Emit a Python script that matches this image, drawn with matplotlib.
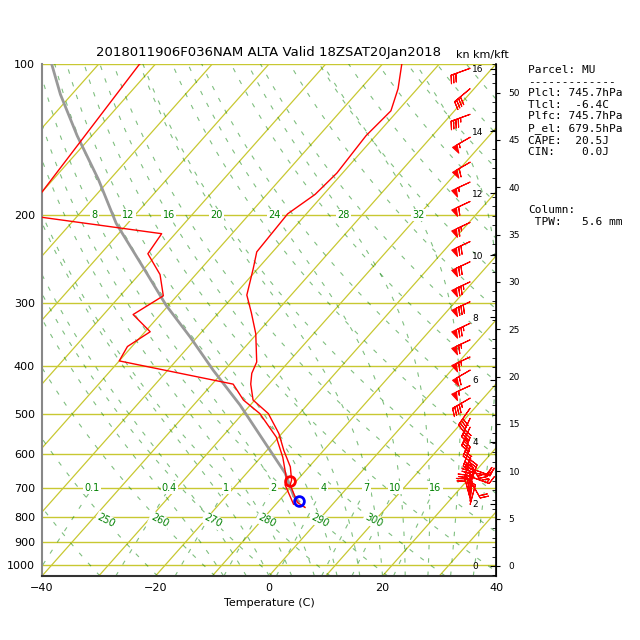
import numpy as np
import matplotlib
matplotlib.use('Agg')
import matplotlib.pyplot as plt
from matplotlib.transforms import Affine2D
from matplotlib.ticker import FixedLocator, NullLocator, MultipleLocator

# ---- sounding values ----
temp_p = [766, 749, 691, 676, 636, 590, 546, 498, 468, 435, 414, 393, 345, 313,
          289, 256, 237, 199, 182, 165, 139, 124, 112, 100]
temp_c = [-4.4, -6.5, -10.5, -11.0, -13.3, -17.0, -20.5, -25.5, -30.3, -33.2, -34.7,
          -35.6, -40.2, -44.3, -47.8, -50.8, -52.8, -53.3, -51.5, -51.0, -51.7,
          -51.2, -53.4, -56.6]

dwpt_p = [755, 691, 667, 609, 555, 498, 468, 435, 391, 366, 342, 316, 290, 263,
          239, 218, 200, 100]
dwpt_c = [-6.9, -11.4, -12.4, -16.1, -20.4, -27.0, -32.0, -36.3, -60.0, -60.8,
          -59.1, -64.8, -62.4, -66.3, -71.7, -72.4, -99.5, -102.8]

parcel_p = [746, 725, 655, 563, 479, 408, 350, 303, 254, 208, 170, 139, 115, 100]
parcel_c = [-6.4, -8.3, -13.2, -22.2, -31.8, -42.0, -51.3, -60.4, -70.5, -82.0,
            -92.0, -102.6, -112.0, -118.3]

lcl_p, lcl_t = 745.7, -6.4
el_p, el_t = 679.5, -11.1

wind_p = [102, 112, 126, 140, 157, 172, 188, 207, 226, 248, 272, 298, 329, 355,
          384, 408, 438, 464, 486, 509, 530, 555, 581, 608, 625, 640, 652, 665,
          677, 688, 700, 712, 724, 735, 745, 756]
wind_dir = [250, 230, 250, 240, 240, 245, 245, 245, 245, 245, 245, 245, 245, 245,
            245, 240, 245, 240, 215, 205, 205, 200, 200, 195, 150, 110, 100, 110,
            150, 20, 10, 0, 350, 345, 5, 15]
wind_kt = [30, 40, 45, 55, 60, 55, 60, 65, 70, 70, 75, 80, 75, 65,
           65, 60, 55, 45, 40, 40, 35, 35, 30, 30, 25, 20, 20, 15,
           20, 20, 25, 25, 20, 20, 15, 15]

isobars = [100, 200, 300, 400, 500, 600, 700, 800, 900, 1000]
isotherms = list(range(-160, 50, 10))
dry_theta = list(range(230, 470, 10))
dry_labels = [250, 260, 270, 280, 290, 300]
moist_tw = list(range(-8, 40, 4))
moist_labels = [8, 12, 16, 20, 24, 28, 32]
mix_ratio = [0.1, 0.4, 1, 2, 4, 7, 10, 16]
mix_labels = ['0.1', '0.4', '1', '2', '4', '7', '10', '16']

title = '2018011906F036NAM ALTA Valid 18ZSAT20Jan2018'
info = ['Parcel: MU', '-------------', 'Plcl: 745.7hPa', 'Tlcl:  -6.4C',
        'Plfc: 745.7hPa', 'P_el: 679.5hPa', 'CAPE:  20.5J', 'CIN:    0.0J',
        '', '', '', '', 'Column:', ' TPW:   5.6 mm']


def moist_adiabat(tw, pres, p0=1050.0):
    # pseudo-adiabat starting at (p0, tw)
    rd, cp, lv, eps = 287.04, 1005.7, 2.501e6, 0.622

    def dtdp(t, p):
        es = 6.112 * np.exp(17.67 * (t - 273.15) / (t - 29.65))
        rs = eps * es / (p - es)
        return (rd * t + lv * rs) / (p * (cp + lv * lv * rs * eps / (rd * t * t)))

    out = []
    for ptarget in pres:
        t, p = tw + 273.15, p0
        n = max(int(abs(ptarget - p) / 2.0), 1)
        dp = (ptarget - p) / n
        for _ in range(n):
            k1 = dtdp(t, p)
            k2 = dtdp(t + k1 * dp, p + dp)
            t += 0.5 * (k1 + k2) * dp
            p += dp
        out.append(t - 273.15)
    return np.array(out)


def mixing_dewpoint(w, p):
    e = w * p / (622.0 + w)
    x = np.log(e / 6.112)
    return 243.5 * x / (17.67 - x)


fig = plt.figure(figsize=(6.4, 6.4), dpi=100)
ax = fig.add_axes([42 / 640, 64 / 640, 454 / 640, 512 / 640])
ax.set_yscale('log')
ax.set_xlim(-40, 40)
ax.set_ylim(1050, 100)
ax.set_autoscale_on(False)
skew = ax.transScale + ax.transLimits + Affine2D().skew_deg(45, 0) + ax.transAxes

dash = dict(color='green', lw=0.8, alpha=0.5, dashes=(4, 8))
lab = dict(color='green', fontsize=7, ha='center', va='center', zorder=4,
           bbox=dict(facecolor='white', edgecolor='none', pad=1.0))

# isobars and isotherms
for p in isobars:
    ax.axhline(p, color='#c8c832', lw=1.0, zorder=1)
pp = np.array([1050, 100])
for t in isotherms:
    ax.plot([t, t], pp, transform=skew, color='#c8c832', lw=0.9, zorder=1)

# dry adiabats
prof = np.linspace(1050, 100, 120)
for th in dry_theta:
    ax.plot(th * (prof / 1000.0) ** 0.2857 - 273.15, prof, transform=skew, **dash)
for th in dry_labels:
    t8 = th * (815 / 1000.0) ** 0.2857 - 273.15
    ax.text(t8, 815, str(th), transform=skew, rotation=-27, rotation_mode='anchor',
            **lab)

# moist adiabats
for tw in moist_tw:
    ax.plot(moist_adiabat(tw, prof), prof, transform=skew, **dash)
for tw in moist_labels:
    t2 = moist_adiabat(tw, [200.0])[0]
    ax.text(t2, 200, str(tw), transform=skew, **lab)

# mixing ratio lines
prof_w = np.linspace(1050, 700, 30)
for w, s in zip(mix_ratio, mix_labels):
    ax.plot(mixing_dewpoint(w, prof_w), prof_w, transform=skew, **dash)
    ax.text(mixing_dewpoint(w, 700.0), 700, s, transform=skew, **lab)

# profiles
ax.plot(parcel_c, parcel_p, transform=skew, color='#999999', lw=2.0, zorder=5)
ax.plot(temp_c, temp_p, transform=skew, color='red', lw=1.0, zorder=6)
ax.plot(dwpt_c, dwpt_p, transform=skew, color='red', lw=1.0, zorder=6)
ax.plot([el_t], [el_p], transform=skew, marker='o', ms=7, mfc='none', mec='red',
        mew=2, zorder=7)
ax.plot([lcl_t], [lcl_p], transform=skew, marker='o', ms=7, mfc='none', mec='blue',
        mew=2, zorder=7)

# wind barbs
wd = np.radians(wind_dir)
u = -np.array(wind_kt) * np.sin(wd)
v = -np.array(wind_kt) * np.cos(wd)
ax.barbs(np.full(len(wind_p), 0.943), wind_p, u, v, transform=ax.get_yaxis_transform(),
         color='red', length=5.4, lw=0.8, flip_barb=True, zorder=8)

ax.yaxis.set_major_locator(FixedLocator(isobars))
ax.yaxis.set_minor_locator(NullLocator())
ax.set_yticklabels([str(p) for p in isobars])
ax.set_xticks([-40, -20, 0, 20, 40])
ax.tick_params(length=0, labelsize=8, pad=5)
ax.set_xlabel('Temperature (C)', fontsize=8, labelpad=4)
ax.set_title(title, fontsize=9.5, pad=6)
for side in ['left', 'bottom']:
    ax.spines[side].set_linewidth(1.5)
ax.spines['left'].set_color('#888888')
ax.spines['bottom'].set_color('#333333')
ax.spines['top'].set_visible(False)

# height scales
ax_km = ax.twinx()
ax_km.set_ylim(-0.322, 16.16)
ax_km.yaxis.set_major_locator(MultipleLocator(2))
ax_km.tick_params(axis='y', direction='in', length=4, pad=-17, labelsize=6.5)
for s in ax_km.spines.values():
    s.set_visible(False)
ax_kft = ax.twinx()
ax_kft.set_ylim(-0.322 * 3.28084, 16.16 * 3.28084)
ax_kft.yaxis.set_major_locator(MultipleLocator(5))
ax_kft.yaxis.set_minor_locator(MultipleLocator(1))
ax_kft.tick_params(axis='y', which='major', direction='out', length=3, pad=6,
                   labelsize=6.5)
ax_kft.tick_params(axis='y', which='minor', direction='in', length=3)
for s in ['left', 'top', 'bottom']:
    ax_kft.spines[s].set_visible(False)
ax_kft.spines['right'].set_linewidth(1.2)

fig.text(463 / 640, 1 - 55 / 640, 'kn', fontsize=8, ha='center', va='center')
fig.text(491 / 640, 1 - 55 / 640, 'km/kft', fontsize=8, ha='center', va='center')
fig.text(528 / 640, 1 - 65 / 640, '\n'.join(info), family='DejaVu Sans Mono',
         fontsize=8, va='top', ha='left', linespacing=1.2)

fig.savefig('out.png', dpi=100)
